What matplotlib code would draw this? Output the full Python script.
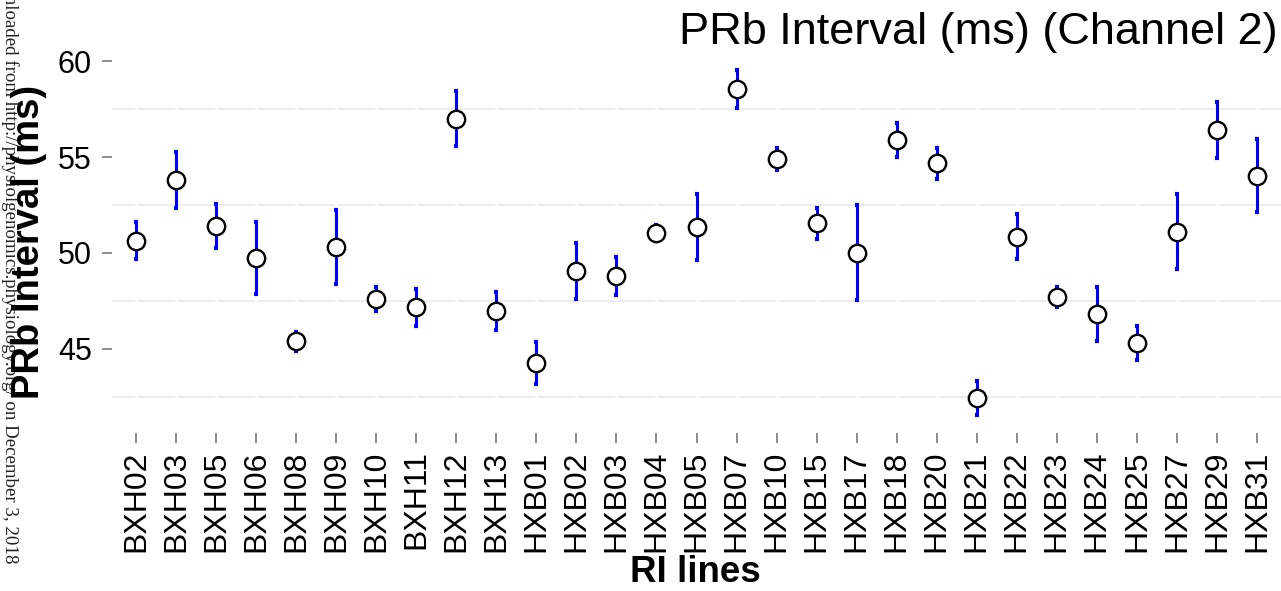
import numpy as np
import matplotlib
matplotlib.use('Agg')
import matplotlib.pyplot as plt

# ---------- data ----------
lines = ['BXH02', 'BXH03', 'BXH05', 'BXH06', 'BXH08', 'BXH09', 'BXH10', 'BXH11',
         'BXH12', 'BXH13', 'HXB01', 'HXB02', 'HXB03', 'HXB04', 'HXB05', 'HXB07',
         'HXB10', 'HXB15', 'HXB17', 'HXB18', 'HXB20', 'HXB21', 'HXB22', 'HXB23',
         'HXB24', 'HXB25', 'HXB27', 'HXB29', 'HXB31']
pr_mean = [50.64, 53.79, 51.42, 49.76, 45.40, 50.29, 47.59, 47.19, 57.00, 46.98,
           44.29, 49.08, 48.80, 51.04, 51.35, 58.52, 54.90, 51.54, 50.02, 55.89,
           54.67, 42.45, 50.85, 47.73, 46.81, 45.33, 51.09, 56.39, 54.01]
pr_upper = [51.63, 55.26, 52.57, 51.61, 45.87, 52.22, 48.21, 48.14, 58.44, 47.97,
            45.36, 50.54, 49.81, 51.45, 53.09, 59.53, 55.47, 52.36, 52.52, 56.79,
            55.49, 43.35, 52.03, 48.25, 48.21, 46.20, 53.06, 57.85, 55.92]
pr_lower = [49.67, 52.33, 50.28, 47.88, 44.91, 48.37, 46.98, 46.20, 55.56, 45.97,
            43.19, 47.60, 47.80, 50.63, 49.62, 57.53, 54.30, 50.71, 47.53, 54.98,
            53.87, 41.56, 49.69, 47.19, 45.40, 44.43, 49.15, 54.97, 52.12]
y_major = [45, 50, 55, 60]
y_minor = [42.5, 47.5, 52.5, 57.5]

W, H = 1281, 591


def main():
    plt.rcParams['font.family'] = ['Liberation Sans', 'DejaVu Sans']

    fig = plt.figure(figsize=(W / 100, H / 100), dpi=100)
    ax = fig.add_axes([112 / W, 1 - 433 / H, (W - 112) / W, (433 - 53) / H])

    x = np.arange(len(lines))
    mean = np.array(pr_mean)
    err = [mean - np.array(pr_lower), np.array(pr_upper) - mean]

    # grid: light horizontal lines at minor positions, broken by white verticals
    ax.hlines(y_minor, -0.6, len(lines) - 0.4, color='#ebebeb', lw=1.3, zorder=1)
    ax.vlines(x, 40, 61, color='white', lw=2.0, zorder=1.2)

    ax.errorbar(x, mean, yerr=err, fmt='none', ecolor='#0000ff', elinewidth=2.2,
                capsize=1.5, capthick=3.0, zorder=2)
    ax.plot(x, mean, 'o', ms=12.5, mfc='white', mec='black', mew=1.7, zorder=3)

    ax.set_xlim(-0.6, len(lines) - 0.4)
    ax.set_ylim(40.62, 60.42)
    ax.set_xticks(x)
    ax.set_xticklabels(lines)
    ax.set_yticks(y_major)
    ax.set_yticklabels([str(v) for v in y_major])
    ax.tick_params(axis='both', length=7.5, width=1.4, color='#8c8c8c',
                   labelcolor='black')
    ax.tick_params(axis='x', labelrotation=90, pad=5, labelsize=23)
    ax.tick_params(axis='y', pad=7, labelsize=22)
    for s in ax.spines.values():
        s.set_visible(False)

    # titles / labels
    fig.text(1278 / W, 1 - 44 / H, 'PRb Interval (ms) (Channel 2)', ha='right',
             va='baseline', fontsize=32.5)
    fig.text(695 / W, 1 - 573 / H, 'RI lines', ha='center', va='center',
             fontsize=26.5, fontweight='bold')

    # watermark from the source pdf
    fig.text(10 / W, 1 - 564 / H,
             'Downloaded from http://physiolgenomics.physiology.org/ on December 3, 2018',
             rotation=-90, rotation_mode='anchor', ha='right', va='center',
             fontsize=13.6, family='Liberation Serif', color='#222222')

    fig.text(29 / W, 1 - 242 / H, 'PRb Interval (ms)', rotation=90, ha='center',
             va='center', fontsize=27.5, fontweight='bold')

    fig.savefig('out.png', dpi=100)
    plt.close(fig)


if __name__ == '__main__':
    main()
